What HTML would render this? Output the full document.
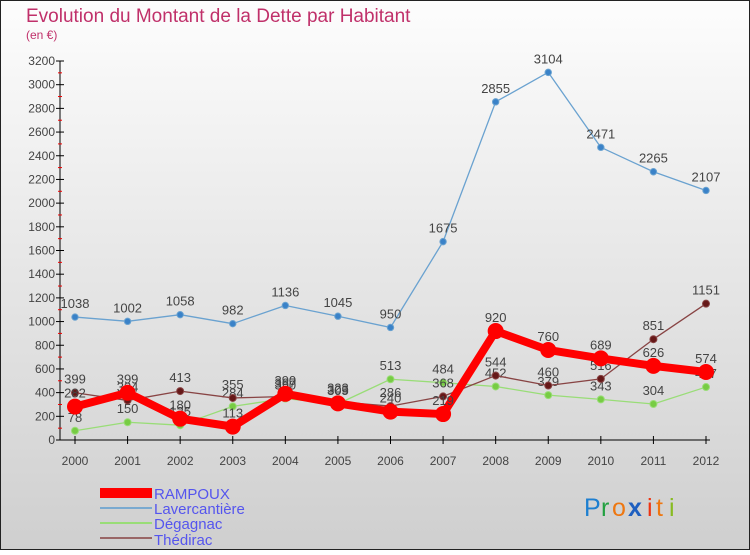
<!DOCTYPE html>
<html><head><meta charset="utf-8"><style>
body{margin:0;width:750px;height:550px;overflow:hidden;font-family:"Liberation Sans",sans-serif}
svg text{font-family:"Liberation Sans",sans-serif}
</style></head><body>
<svg id="c" width="750" height="550">
<defs><linearGradient id="bg" x1="0" y1="0" x2="0" y2="1"><stop offset="0" stop-color="#fdfdfd"/><stop offset="1" stop-color="#cfcfcf"/></linearGradient></defs>
<rect x="0.5" y="0.5" width="749" height="549" fill="url(#bg)" stroke="#222"/>
<text x="26" y="22" font-size="19" fill="#c0306a">Evolution du Montant de la Dette par Habitant</text>
<text x="26" y="39" font-size="12" fill="#c0306a">(en €)</text>
<g id="axes"></g><g id="series"></g>
<g>
<rect x="100" y="488" width="52" height="10" fill="#f00"/>
<text x="154" y="499" font-size="15" fill="#5555ee">RAMPOUX</text>
<rect x="100" y="507" width="52" height="2" fill="#7aaad0"/>
<text x="154" y="514" font-size="15" fill="#5555ee">Lavercantière</text>
<rect x="100" y="522" width="52" height="2" fill="#99dd77"/>
<text x="154" y="529" font-size="15" fill="#5555ee">Dégagnac</text>
<rect x="100" y="537" width="52" height="2" fill="#996666"/>
<text x="154" y="545" font-size="15" fill="#5555ee">Thédirac</text>
</g>
<g font-size="25">
<text x="584" y="516" fill="#1e7fd0">P</text><text x="601" y="516" fill="#22a040">r</text><text x="612" y="516" fill="#ee7711">o</text><text x="628" y="516" fill="#1e5fc0" font-weight="bold">x</text><text x="647" y="516" fill="#ee3311">i</text><text x="656" y="516" fill="#ee7711">t</text><text x="669" y="516" fill="#88bb22">i</text>
</g>
</svg>
<script>
const years=[2000,2001,2002,2003,2004,2005,2006,2007,2008,2009,2010,2011,2012];
const rampoux=[282,399,180,113,390,309,240,219,920,760,689,626,574];
const lavercantiere=[1038,1002,1058,982,1136,1045,950,1675,2855,3104,2471,2265,2107];
const degagnac=[78,150,125,284,350,305,513,484,452,379,343,304,447];
const thedirac=[399,334,413,355,367,323,286,368,544,460,516,851,1151];
const yTicks=[0,200,400,600,800,1000,1200,1400,1600,1800,2000,2200,2400,2600,2800,3000,3200];
const NS="http://www.w3.org/2000/svg";
const x=i=>75+i*(631/12);
const y=v=>440-v*(379/3200);
function mk(p,t,a){const e=document.createElementNS(NS,t);for(const k in a)e.setAttribute(k,a[k]);p.appendChild(e);return e;}
const ax=document.getElementById('axes');
const yl=mk(ax,'line',{x1:60,y1:y(3200),x2:60,y2:440,stroke:'#000'});


const xl=mk(ax,'line',{x1:60,y1:440,x2:710,y2:440,stroke:'#000'});


yTicks.forEach(v=>{
  mk(ax,'line',{x1:56,y1:y(v),x2:64,y2:y(v),stroke:'#000'});
  if(v<3200) mk(ax,'line',{x1:58,y1:y(v+100),x2:62,y2:y(v+100),stroke:'#e00'});
  const t=mk(ax,'text',{x:55,y:y(v)+4,'font-size':12,fill:'#444','text-anchor':'end'});
  t.textContent=v;
  
  
});
years.forEach((yr,i)=>{
  mk(ax,'line',{x1:x(i),y1:436,x2:x(i),y2:444,stroke:'#000'});
  const t=mk(ax,'text',{x:x(i),y:465,'font-size':12,fill:'#444','text-anchor':'middle'});
  t.textContent=yr;
  
  
});
const sg=document.getElementById('series');
function draw(name,data,color,w,r,mcol){
  const g=mk(sg,'g',{});
  
  
  mk(g,'polyline',{points:data.map((v,i)=>x(i)+','+y(v)).join(' '),fill:'none',stroke:color,'stroke-width':w,'stroke-linejoin':'round'});
  data.forEach((v,i)=>{
    const c=mk(g,'circle',{cx:x(i),cy:y(v),r:r,fill:mcol,stroke:color,'stroke-width':1});
    
    
    const t=mk(g,'text',{x:x(i),y:y(v)-9,'font-size':13,fill:'#444','text-anchor':'middle'});
    t.textContent=v;
    
    
  });
}
draw('lavercantiere',lavercantiere,'#6aa2d0',1.3,3.2,'#3a82c8');
draw('degagnac',degagnac,'#99dd77',1.3,3.5,'#77cc44');
draw('thedirac',thedirac,'#884444',1.3,3.5,'#661818');
draw('rampoux',rampoux,'#f00',8,7.5,'#f00');
</script>
</body></html>
